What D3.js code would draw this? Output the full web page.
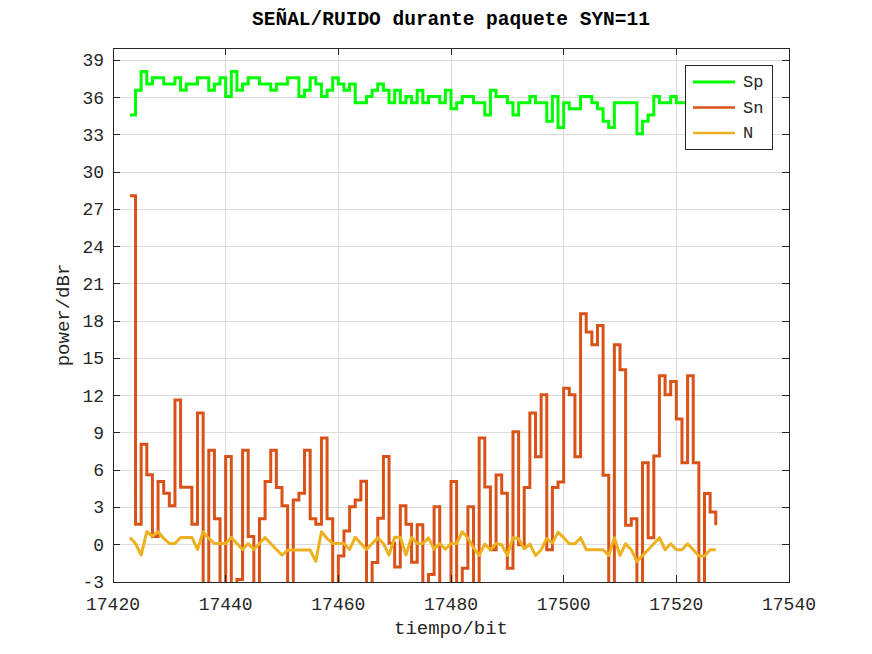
<!DOCTYPE html>
<html><head><meta charset="utf-8">
<script src="https://cdn.jsdelivr.net/npm/d3@7"></script>
<style>body{margin:0;background:#fff}svg{display:block}</style>
</head><body>
<svg id="c" width="872" height="654"></svg>
<script>
const bits = [17423,17424,17425,17426,17427,17428,17429,17430,17431,17432,17433,17434,17435,17436,17437,17438,17439,17440,17441,17442,17443,17444,17445,17446,17447,17448,17449,17450,17451,17452,17453,17454,17455,17456,17457,17458,17459,17460,17461,17462,17463,17464,17465,17466,17467,17468,17469,17470,17471,17472,17473,17474,17475,17476,17477,17478,17479,17480,17481,17482,17483,17484,17485,17486,17487,17488,17489,17490,17491,17492,17493,17494,17495,17496,17497,17498,17499,17500,17501,17502,17503,17504,17505,17506,17507,17508,17509,17510,17511,17512,17513,17514,17515,17516,17517,17518,17519,17520,17521,17522,17523,17524,17525,17526,17527];
const Sp = [34.6,36.6,38.1,37.1,37.6,37.6,37.1,37.1,37.6,36.6,37.1,37.1,37.6,37.6,36.6,37.1,37.6,36.1,38.1,36.6,37.1,37.6,37.6,37.1,37.1,36.6,37.1,37.1,37.6,37.6,36.1,36.6,37.6,37.1,36.1,36.6,37.6,37.1,36.6,37.1,35.6,35.6,36.1,36.6,37.1,36.6,35.6,36.6,35.6,36.1,35.6,36.6,35.6,36.1,36.1,35.6,36.6,35.1,35.6,36.1,36.1,35.6,35.6,34.6,36.6,36.1,36.1,35.6,34.6,35.6,35.6,36.1,35.6,35.6,34.1,36.1,33.6,35.6,35.1,35.1,36.1,36.1,35.6,35.1,34.1,33.6,35.6,35.6,35.6,35.6,33.1,34.1,34.6,36.1,35.6,35.6,36.1,35.6,35.6,36.1,35.6,35.1,35.6,36.1,35.6];
const Sn = [28.1,1.65,8.1,5.63,0.66,5.1,4.15,3.13,11.65,4.63,4.63,1.65,10.6,-8,7.6,2.1,-8,7.1,-8,-2.8,7.6,0.66,-8,2.1,5.1,7.6,4.6,3.13,-8,3.6,4.15,7.6,2.1,1.65,8.6,2.1,-8,-0.9,1.1,3.06,3.6,5.12,-8,-1.43,2.14,7.1,0.12,-1.8,3.14,1.65,-1.4,1.6,-8,-2.4,3.06,-8,-8,5.1,-8,-1.9,3.06,-8,8.6,4.65,-0.4,5.62,4.14,-1.9,9.1,0.0,4.6,10.6,7.08,12.07,-0.4,4.6,5.06,12.6,12.07,7.08,18.6,17.14,16.1,17.65,5.6,-8,16.1,14.1,1.56,2.1,-8,6.6,0.56,7.14,13.6,12.07,13.15,10.13,6.6,13.6,6.6,-8,4.12,2.64,1.56];
const N = [0.59,0.1,-0.83,1.05,0.7,1.05,0.51,0.1,0.1,0.59,0.59,0.59,-0.38,1.05,0.51,0.1,0.1,0.1,0.59,0.1,-0.38,0.1,-0.38,0.1,0.59,0.1,-0.38,-0.83,-0.43,-0.43,-0.43,-0.43,-0.43,-1.33,1.05,0.51,0.1,0.1,0.1,-0.38,0.6,0.1,-0.38,0.1,0.55,0.1,-0.83,0.6,0.6,-0.83,0.6,0.1,0.1,0.55,-0.35,0.1,-0.35,0.1,0.1,1.05,0.55,-0.25,-0.86,0.05,-0.4,0.1,0.0,-0.86,0.57,0.5,-0.32,0.05,-0.86,-0.42,0.5,0.13,1.02,0.57,0.08,0.08,0.57,-0.4,-0.4,-0.4,-0.4,-0.86,0.57,-0.86,0.08,-0.4,-1.35,-0.86,-0.4,0.08,0.57,-0.4,0.08,-0.4,-0.4,0.08,-0.4,-0.9,-0.9,-0.4,-0.4];
const xTicks = [17420,17440,17460,17480,17500,17520,17540];
const yTicks = [-3,0,3,6,9,12,15,18,21,24,27,30,33,36,39];
const seriesNames = ["Sp","Sn","N"];
const seriesColors = ["#00ff00","#d95319","#edb120"];
const titleText = "SEÑAL/RUIDO durante paquete SYN=11";
const xLabel = "tiempo/bit";
const yLabel = "power/dBr";

const L = 113, R = 789, T = 48, B = 582;
const font = "'Liberation Mono','Courier New',monospace";
const axisColor = "#262626";
const svg = d3.select("#c");
const x = d3.scaleLinear().domain([17420, 17540]).range([L, R]);
const y = d3.scaleLinear().domain([-3, 40]).range([B, T]);

// grid
const grid = svg.append("g");
grid.selectAll(".gx").data(xTicks).join("line")
  .attr("x1", d => x(d)).attr("x2", d => x(d)).attr("y1", T).attr("y2", B)
  .attr("stroke", "#dcdcdc").attr("stroke-width", 1).attr("shape-rendering", "crispEdges");
grid.selectAll(".gy").data(yTicks).join("line")
  .attr("x1", L).attr("x2", R).attr("y1", d => y(d)).attr("y2", d => y(d))
  .attr("stroke", "#dcdcdc").attr("stroke-width", 1).attr("shape-rendering", "crispEdges");

svg.append("clipPath").attr("id", "clip").append("rect")
  .attr("x", L).attr("y", T).attr("width", R - L).attr("height", B - T);
const plot = svg.append("g").attr("clip-path", "url(#clip)");

const stair = d3.line().x((d, i) => x(bits[i])).y(d => y(d)).curve(d3.curveStepAfter);
const lin = d3.line().x((d, i) => x(bits[i])).y(d => y(d));
plot.append("path").datum(Sp).attr("d", stair).attr("fill", "none")
  .attr("stroke", seriesColors[0]).attr("stroke-width", 3).attr("stroke-linejoin", "miter");
plot.append("path").datum(Sn).attr("d", stair).attr("fill", "none")
  .attr("stroke", seriesColors[1]).attr("stroke-width", 3).attr("stroke-linejoin", "miter");
plot.append("path").datum(N).attr("d", lin).attr("fill", "none")
  .attr("stroke", seriesColors[2]).attr("stroke-width", 3).attr("stroke-linejoin", "round");

// axes
const tickLen = 7;
const ax = svg.append("g").attr("shape-rendering", "crispEdges");
ax.append("rect").attr("x", L).attr("y", T).attr("width", R - L).attr("height", B - T)
  .attr("fill", "none").attr("stroke", axisColor).attr("stroke-width", 1);
xTicks.forEach(t => {
  ax.append("line").attr("x1", x(t)).attr("x2", x(t)).attr("y1", B).attr("y2", B - tickLen).attr("stroke", axisColor);
  ax.append("line").attr("x1", x(t)).attr("x2", x(t)).attr("y1", T).attr("y2", T + tickLen).attr("stroke", axisColor);
});
yTicks.forEach(t => {
  ax.append("line").attr("x1", L).attr("x2", L + tickLen).attr("y1", y(t)).attr("y2", y(t)).attr("stroke", axisColor);
  ax.append("line").attr("x1", R).attr("x2", R - tickLen).attr("y1", y(t)).attr("y2", y(t)).attr("stroke", axisColor);
});
svg.selectAll(".xt").data(xTicks).join("text")
  .attr("x", d => x(d)).attr("y", 610).attr("text-anchor", "middle")
  .attr("font-family", font).attr("font-size", 18).attr("fill", axisColor).text(d => d);
svg.selectAll(".yt").data(yTicks).join("text")
  .attr("x", 104).attr("y", d => y(d) + 6).attr("text-anchor", "end")
  .attr("font-family", font).attr("font-size", 18).attr("fill", axisColor).text(d => d);

svg.append("text").attr("x", (L + R) / 2).attr("y", 634).attr("text-anchor", "middle")
  .attr("font-family", font).attr("font-size", 19).attr("fill", axisColor).text(xLabel);
svg.append("text").attr("transform", `translate(69,${(T + B) / 2}) rotate(-90)`).attr("text-anchor", "middle")
  .attr("font-family", font).attr("font-size", 19).attr("fill", axisColor).text(yLabel);
svg.append("text").attr("x", (L + R) / 2).attr("y", 25).attr("text-anchor", "middle")
  .attr("font-family", font).attr("font-weight", "bold").attr("font-size", 19.5).attr("fill", "#000").text(titleText);

// legend
const lg = svg.append("g");
lg.append("rect").attr("x", 685.5).attr("y", 65.5).attr("width", 87).attr("height", 84)
  .attr("fill", "#fff").attr("stroke", axisColor).attr("stroke-width", 1);
seriesNames.forEach((n, i) => {
  const yy = 82 + i * 25.5;
  lg.append("line").attr("x1", 693).attr("x2", 735).attr("y1", yy).attr("y2", yy)
    .attr("stroke", seriesColors[i]).attr("stroke-width", i === 0 ? 3 : 2.5);
  lg.append("text").attr("x", 743).attr("y", yy + 5).attr("font-family", font).attr("font-size", 17)
    .attr("fill", axisColor).text(n);
});
</script>
</body></html>
